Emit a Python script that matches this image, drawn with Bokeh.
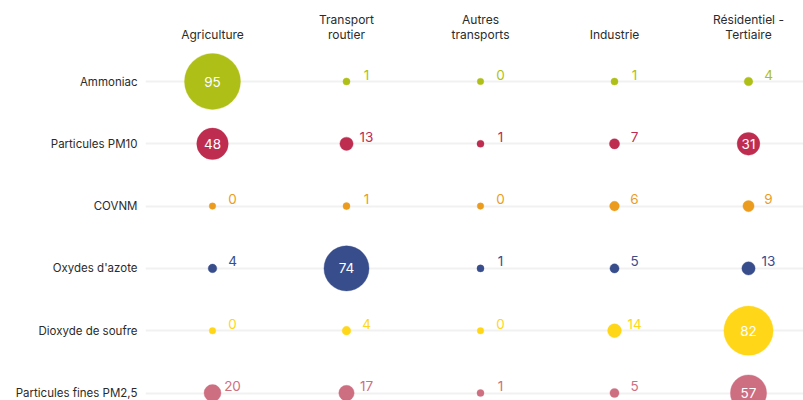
from bokeh.plotting import figure
from bokeh.models import ColumnDataSource, FixedTicker, LinearAxis, Range1d
from bokeh.core.properties import value
from bokeh.embed import file_html
from bokeh.resources import INLINE

header_line1 = ["", "Transport", "Autres", "", "Résidentiel -"]
header_line2 = ["Agriculture", "routier", "transports", "Industrie", "Tertiaire"]
pollutants = ["Ammoniac", "Particules PM10", "COVNM", "Oxydes d'azote", "Dioxyde de soufre", "Particules fines PM2,5"]
colors = ["#AEBF17", "#BE2D50", "#EB9C1E", "#384D8C", "#FFD618", "#CE6E81"]

ammoniac = [95, 1, 0, 1, 4]
pm10 = [48, 13, 1, 7, 31]
covnm = [0, 1, 0, 6, 9]
nox = [4, 74, 1, 5, 13]
so2 = [0, 4, 0, 14, 82]
pm25 = [20, 17, 1, 5, 57]
rows = [ammoniac, pm10, covnm, nox, so2, pm25]

FONT = "Inter"
TEXT_COLOR = "#2B2B2B"
W, H = 803, 400
LEFT = 145
COL_W, ROW_H = 134, 62.3
COL0_X, ROW0_Y = 212 - LEFT, 81

xs, ys, vals, cols = [], [], [], []
for i, row in enumerate(rows):
    for j, v in enumerate(row):
        xs.append(j); ys.append(i); vals.append(v); cols.append(colors[i])
sizes = [2 * (3.3 + 0.26 * v) for v in vals]
labels = [str(v) for v in vals]
src = ColumnDataSource(dict(x=xs, y=ys, v=vals, color=cols, size=sizes, label=labels))
inner = ColumnDataSource({k: [c for c, v in zip(col, vals) if v >= 31] for k, col in src.data.items()})
outer = ColumnDataSource({k: [c for c, v in zip(col, vals) if v < 31] for k, col in src.data.items()})

x_range = Range1d(-COL0_X / COL_W, (W - LEFT - COL0_X) / COL_W)
y_range = Range1d((H - ROW0_Y) / ROW_H, -ROW0_Y / ROW_H)

p = figure(width=W, height=H, output_backend="svg", toolbar_location=None,
           x_range=x_range, y_range=y_range, x_axis_location=None, y_axis_location=None,
           min_border_left=LEFT, min_border_top=0, min_border_right=0, min_border_bottom=0,
           outline_line_color=None, background_fill_color="white", border_fill_color="white")

p.xgrid.visible = False
p.ygrid.ticker = FixedTicker(ticks=list(range(len(pollutants))))
p.ygrid.grid_line_color = "#F1F1F1"
p.ygrid.grid_line_width = 2

yaxis = LinearAxis(ticker=FixedTicker(ticks=list(range(len(pollutants)))),
                   major_label_overrides={i: s for i, s in enumerate(pollutants)})
yaxis.axis_line_color = None
yaxis.major_tick_line_color = None
yaxis.minor_tick_line_color = None
yaxis.major_label_text_font = FONT
yaxis.major_label_text_color = TEXT_COLOR
yaxis.major_label_text_font_size = "11.5px"
yaxis.major_label_standoff = 2
p.add_layout(yaxis, "left")

# Column headers, drawn above the first row, one glyph per line of text
n = len(header_line2)
head1 = ColumnDataSource(dict(x=[j for j in range(n) if header_line1[j]], y=[0] * sum(1 for s in header_line1 if s),
                              t=[s for s in header_line1 if s]))
head2 = ColumnDataSource(dict(x=list(range(n)), y=[0] * n, t=header_line2))
for s, off in ((head1, -62), (head2, -47)):
    p.text("x", "y", text="t", source=s, text_color=TEXT_COLOR, text_align="center",
           text_baseline="middle", text_font=value(FONT), text_font_size="12px", y_offset=off)

p.scatter("x", "y", source=src, size="size", fill_color="color", line_color="color",
          line_alpha=0.35, line_width=1)
p.text("x", "y", text="label", source=inner, text_color="white", text_align="center",
       text_baseline="middle", text_font=value(FONT), text_font_size="13.5px")
p.text("x", "y", text="label", source=outer, text_color="color", text_align="center",
       text_baseline="middle", text_font=value(FONT), text_font_size="13.5px",
       x_offset=20, y_offset=-7)

open("out.html", "w").write(file_html(p, INLINE))
